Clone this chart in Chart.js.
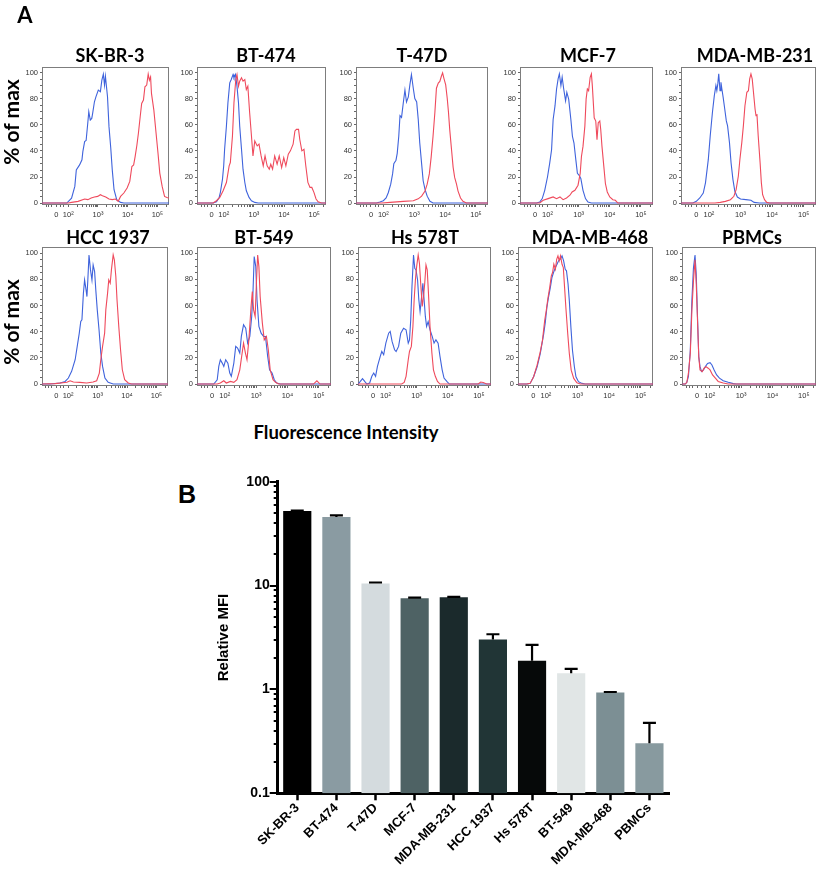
<!DOCTYPE html>
<html>
<head>
<meta charset="utf-8">
<script src="https://cdn.jsdelivr.net/npm/chart.js@4.4.1/dist/chart.umd.min.js"></script>
<style>
body{margin:0;background:#fff;}
#wrap{position:relative;width:817px;height:872px;overflow:hidden;}
canvas{position:absolute;}
.lbl{position:absolute;font-weight:bold;white-space:nowrap;color:#000;line-height:1;transform:translate(-50%,-50%);}
.hist{font-family:Lato,"Liberation Sans",sans-serif;font-size:18px;}
</style>
</head>
<body>
<div id="wrap"></div>
<script>
// ---- panel A: histograms, x = display position (decades), y = % of max ----
const skbr3Blue = [[1.12,0],[1.95,0],[2.11,3.8],[2.22,12.8],[2.27,25.5],[2.38,29.3],[2.46,33.2],[2.49,39.5],[2.55,47.2],[2.60,48],[2.66,62.5],[2.69,70.2],[2.74,63.8],[2.79,65],[2.82,68.9],[2.88,77.8],[2.93,81.6],[3.01,86.7],[3.08,85.5],[3.13,94.4],[3.18,99],[3.22,90.6],[3.25,97.4],[3.32,81.6],[3.37,58.7],[3.43,42.1],[3.48,25.5],[3.54,10.2],[3.63,2.6],[3.76,0.5],[3.87,0],[5.39,0]];
const skbr3Red = [[1.12,0],[2.0,0],[2.11,0.5],[2.33,1.3],[2.55,3.1],[2.66,2.6],[2.77,3.8],[2.88,4.6],[2.99,5.1],[3.08,6.4],[3.15,5.6],[3.26,4.6],[3.37,3.1],[3.48,2.6],[3.59,3.1],[3.68,1.3],[3.76,5.1],[3.87,7.7],[3.98,11.5],[4.07,16.6],[4.14,28.1],[4.20,29.3],[4.25,35.7],[4.31,44.6],[4.36,53.6],[4.42,66.3],[4.47,76.5],[4.53,79.1],[4.58,89.3],[4.64,90.6],[4.69,99],[4.73,94.4],[4.77,96.9],[4.80,84.2],[4.88,71.4],[4.95,54.8],[5.02,38.3],[5.08,23],[5.16,12.8],[5.24,5.1],[5.32,4.3],[5.39,3.8]];
const bt474Blue = [[1.12,0],[1.65,0],[1.76,1],[1.85,4.3],[1.89,8.2],[1.96,18.4],[2.0,28.6],[2.03,41.3],[2.09,59.2],[2.14,77],[2.20,92.3],[2.25,94.9],[2.31,98.7],[2.34,96.2],[2.39,98.7],[2.44,89.8],[2.49,77],[2.53,59.2],[2.59,41.3],[2.64,26],[2.70,15.8],[2.75,9.4],[2.84,4.3],[2.92,1.8],[3.03,0.5],[3.14,0],[5.39,0]];
const bt474Red = [[1.12,0],[1.65,0],[1.76,1.8],[1.87,4.3],[1.98,9.4],[2.09,15.8],[2.18,28.6],[2.22,31.1],[2.29,51.5],[2.34,77],[2.40,94.9],[2.44,98.7],[2.49,89.8],[2.53,93.6],[2.59,96.2],[2.64,93.6],[2.70,94.9],[2.75,87.2],[2.80,89.8],[2.86,69.4],[2.92,51.5],[2.97,36.2],[3.03,47.7],[3.11,43.9],[3.17,45.2],[3.24,36.2],[3.31,28.6],[3.37,36.2],[3.44,28.6],[3.51,26],[3.56,29.8],[3.62,26],[3.69,36.2],[3.77,29.8],[3.84,36.2],[3.92,27.3],[3.99,34.9],[4.06,28.6],[4.14,37.5],[4.21,40.1],[4.30,45.2],[4.36,55.4],[4.41,56.6],[4.48,56.6],[4.52,49],[4.59,40.1],[4.66,41.3],[4.72,28.6],[4.79,15.8],[4.86,12],[4.92,12],[4.99,8.2],[5.06,3.1],[5.13,1],[5.24,0],[5.39,0]];
const t47dBlue = [[1.12,0],[1.78,0],[1.89,0.8],[2.0,1.8],[2.09,3.9],[2.16,7.9],[2.24,14.5],[2.30,22.4],[2.34,30.3],[2.41,32.9],[2.45,38.2],[2.50,51.3],[2.54,67.1],[2.59,65.8],[2.65,77.6],[2.70,86.8],[2.75,77.6],[2.81,81.6],[2.86,90.8],[2.91,98.7],[2.97,88.2],[3.02,80.3],[3.08,77.6],[3.13,64.5],[3.18,46.1],[3.24,30.3],[3.29,17.1],[3.35,10.5],[3.42,5.3],[3.51,1.3],[3.61,0],[5.39,0]];
const t47dRed = [[1.12,0],[1.95,0],[2.22,0.5],[2.65,1.3],[2.97,1.8],[3.13,3.2],[3.24,5.3],[3.35,9.2],[3.42,14.5],[3.49,22.4],[3.55,35.5],[3.61,51.3],[3.67,69.7],[3.72,88.2],[3.78,92.1],[3.83,93.4],[3.88,97.4],[3.92,100],[3.96,96],[4.02,90.8],[4.07,80.3],[4.11,69.7],[4.15,56.6],[4.21,40.8],[4.26,27.6],[4.31,19.7],[4.37,14.5],[4.42,9.2],[4.50,3.9],[4.58,1.3],[4.69,0],[5.39,0]];
const mcf7Blue = [[1.12,0],[1.65,0],[1.75,0.8],[1.83,3.4],[1.91,9.8],[2.0,20.2],[2.07,30.6],[2.13,40.9],[2.18,64.2],[2.24,74.6],[2.29,87.6],[2.34,95.3],[2.38,99.2],[2.43,90.2],[2.47,96.6],[2.52,87.6],[2.58,78.5],[2.62,85],[2.68,79.8],[2.75,64.2],[2.80,51.3],[2.85,46.1],[2.91,33.2],[2.96,22.8],[3.01,21.5],[3.07,18.9],[3.14,9.8],[3.22,3.4],[3.30,0.8],[3.41,0],[5.39,0]];
const mcf7Red = [[1.12,0],[1.75,0],[1.86,2.1],[2.02,3.4],[2.18,4.7],[2.29,3.4],[2.40,4.7],[2.50,2.6],[2.61,3.9],[2.72,6],[2.79,8.5],[2.88,9.8],[2.98,13.7],[3.05,22.8],[3.09,35.8],[3.14,43.5],[3.20,59.1],[3.24,79.8],[3.28,87.6],[3.32,86.3],[3.37,96.6],[3.41,99.2],[3.44,90.2],[3.50,65.5],[3.55,63],[3.59,48.7],[3.63,61.7],[3.68,63],[3.71,56.5],[3.75,43.5],[3.81,28],[3.86,15],[3.92,8.5],[4.00,4.7],[4.10,2.6],[4.18,2.1],[4.26,0],[5.39,0]];
const mda231Blue = [[1.12,0],[1.49,0],[1.60,1.3],[1.71,3.9],[1.82,7.7],[1.89,15.5],[1.98,33.5],[2.04,51.5],[2.11,69.6],[2.17,82.5],[2.22,90.2],[2.25,86.3],[2.28,91.5],[2.31,99.2],[2.35,86.3],[2.38,92.8],[2.41,87.6],[2.45,81.2],[2.50,72.2],[2.55,63.1],[2.59,59.3],[2.65,46.4],[2.70,30.9],[2.76,18],[2.82,9],[2.90,4.6],[3.0,3.1],[3.17,2.6],[3.33,2.1],[3.43,0.5],[3.60,0],[5.39,0]];
const mda231Red = [[1.12,0],[2.19,0],[2.36,0.5],[2.52,1.3],[2.68,2.6],[2.79,5.2],[2.86,10.3],[2.93,20.6],[2.98,33.5],[3.04,46.4],[3.09,59.3],[3.14,74.7],[3.20,85.1],[3.25,86.3],[3.29,95.4],[3.33,99.2],[3.37,95.4],[3.41,85.1],[3.46,72.2],[3.49,67],[3.52,68.3],[3.56,51.5],[3.62,30.9],[3.66,15.5],[3.70,6.4],[3.76,2.6],[3.83,0.5],[3.92,0],[5.39,0]];
const hccBlue = [[1.12,0],[1.39,0],[1.73,0.8],[1.90,2],[2.01,4.6],[2.12,9.7],[2.24,18.6],[2.31,28.8],[2.38,38.9],[2.43,47.8],[2.47,49.1],[2.52,69.5],[2.56,79.6],[2.61,72],[2.64,66.9],[2.67,79.6],[2.71,98.7],[2.76,87.3],[2.81,79.6],[2.85,91.1],[2.90,86],[2.94,72],[2.99,56.7],[3.05,41.5],[3.11,23.7],[3.17,13.5],[3.25,4.6],[3.36,1.3],[3.53,0],[5.39,0]];
const hccRed = [[1.12,0],[1.56,0.3],[1.96,1.3],[2.07,2.5],[2.18,1.5],[2.40,1.3],[2.63,0.8],[2.85,1.5],[2.97,2.5],[3.06,8.4],[3.11,18.6],[3.17,28.8],[3.24,38.9],[3.28,56.7],[3.34,69.5],[3.38,79.6],[3.43,77.1],[3.47,87.3],[3.53,98.7],[3.57,94.9],[3.62,82.2],[3.66,64.4],[3.72,44],[3.78,26.2],[3.84,10.9],[3.92,3.3],[4.04,0.8],[4.15,0],[5.39,0]];
const bt549Blue = [[1.12,0],[1.65,0],[1.76,3.3],[1.81,13.5],[1.86,18.6],[1.92,16],[1.97,13.5],[2.03,18.6],[2.10,16],[2.16,8.4],[2.21,5.9],[2.29,16],[2.35,28.8],[2.41,27.5],[2.48,23.7],[2.53,36.4],[2.60,45.3],[2.67,42.7],[2.73,31.3],[2.80,36.4],[2.86,51.7],[2.90,69.5],[2.94,97.5],[2.99,89.8],[3.03,64.4],[3.09,44],[3.16,38.9],[3.24,36.4],[3.30,36.4],[3.37,21.1],[3.43,10.9],[3.51,8.4],[3.58,3.3],[3.66,0.8],[3.77,0],[5.39,0]];
const bt549Red = [[1.12,0],[1.76,0],[1.86,0.8],[1.97,2.5],[2.05,0.8],[2.18,2],[2.29,1.3],[2.39,3.3],[2.48,10.9],[2.54,21.1],[2.60,31.3],[2.66,23.7],[2.71,18.6],[2.77,33.8],[2.84,59.3],[2.88,70.7],[2.92,56.7],[2.97,51.7],[3.01,77.1],[3.05,98.7],[3.09,89.8],[3.13,66.9],[3.20,46.6],[3.26,33.8],[3.33,36.4],[3.39,26.2],[3.45,10.9],[3.54,3.3],[3.62,1.3],[3.72,0],[4.83,0],[4.94,2.5],[5.04,0],[5.39,0]];
const hsBlue = [[1.12,0],[1.13,0],[1.19,2],[1.26,4.1],[1.33,2],[1.40,0],[1.49,0.8],[1.56,5.9],[1.62,8.4],[1.68,5.9],[1.74,13.5],[1.83,21.1],[1.88,24.9],[1.94,22.4],[2.01,31.3],[2.10,38.9],[2.15,40.2],[2.21,32.6],[2.29,26.2],[2.34,24.9],[2.42,28.8],[2.49,38.9],[2.58,42.7],[2.66,41.5],[2.73,31.3],[2.77,33.8],[2.81,49.1],[2.85,74.6],[2.90,98.7],[2.94,88.5],[2.98,87.3],[3.03,79.6],[3.07,64.4],[3.11,55.5],[3.15,64.4],[3.20,77.1],[3.24,64.4],[3.28,51.7],[3.32,44],[3.37,47.8],[3.43,41.5],[3.50,36.4],[3.56,31.3],[3.62,33.8],[3.69,31.3],[3.75,21.1],[3.82,10.9],[3.88,4.6],[3.97,2],[4.05,0],[5.39,0]];
const hsRed = [[1.12,0],[2.52,0],[2.60,1.3],[2.66,5.9],[2.73,18.6],[2.77,24.9],[2.83,28.8],[2.88,44],[2.92,64.4],[2.96,79.6],[3.00,89.8],[3.05,98.7],[3.09,92.4],[3.13,77.1],[3.18,59.3],[3.22,66.9],[3.26,77.1],[3.30,91.1],[3.34,87.3],[3.38,69.5],[3.43,44],[3.49,23.7],[3.54,10.9],[3.60,5.9],[3.67,2],[3.75,0],[4.98,0],[5.06,1.5],[5.14,1.2],[5.25,0],[5.39,0]];
const mda468Blue = [[1.12,0],[1.40,0],[1.50,0.5],[1.61,5.6],[1.72,13.2],[1.82,23.3],[1.93,38.5],[1.98,47.3],[2.03,58.7],[2.08,66.3],[2.14,73.9],[2.19,81.5],[2.24,85.3],[2.30,89.1],[2.35,91.6],[2.40,94.2],[2.45,95.4],[2.51,98],[2.56,94.2],[2.61,87.8],[2.65,86.6],[2.70,76.5],[2.74,63.8],[2.79,43.5],[2.84,25.8],[2.90,13.2],[2.95,5.6],[3.03,1.8],[3.14,0.5],[3.24,0],[5.39,0]];
const mda468Red = [[1.12,0],[1.40,0],[1.50,0.5],[1.61,5.6],[1.72,14.4],[1.82,24.6],[1.89,33.4],[1.96,48.6],[2.01,56.2],[2.06,65.1],[2.12,73.9],[2.17,82.8],[2.21,85.3],[2.25,91.6],[2.30,87.8],[2.34,95.4],[2.38,98],[2.42,94.2],[2.46,98],[2.51,91.6],[2.55,89.1],[2.59,73.9],[2.63,58.7],[2.69,38.5],[2.74,23.3],[2.80,10.6],[2.88,4.3],[2.98,1],[3.09,0],[5.39,0]];
const pbmcBlue = [[1.12,0],[1.22,0],[1.27,1.3],[1.32,5.8],[1.38,25.9],[1.43,63.6],[1.48,88.7],[1.53,98.7],[1.57,83.7],[1.61,51],[1.65,20.9],[1.69,13.3],[1.74,9.5],[1.80,10.8],[1.86,13.3],[1.93,15.8],[2.01,16.3],[2.07,14.6],[2.14,10.8],[2.22,7],[2.31,4.5],[2.43,2.5],[2.59,1.3],[2.75,0.3],[2.85,0],[5.39,0]];
const pbmcRed = [[1.12,0],[1.22,0],[1.27,1.3],[1.32,8.3],[1.38,23.4],[1.43,56],[1.48,78.6],[1.53,95],[1.57,76.1],[1.61,48.5],[1.65,20.9],[1.69,10.8],[1.76,9.5],[1.82,12.1],[1.88,13.3],[1.95,12.1],[2.01,10.8],[2.09,7],[2.18,4.5],[2.27,2],[2.43,0.8],[2.59,0],[5.39,0]];

const histXLabels = ['0', '10\u00b2', '10\u00b3', '10\u2074', '10\u2075'];
const histXLabelPos = [1.6, 2, 3, 4, 5];
const histYLabels = [0, 20, 40, 60, 80, 100];

// ---- panel B: relative MFI bars ----
const cellLines = ['SK-BR-3', 'BT-474', 'T-47D', 'MCF-7', 'MDA-MB-231', 'HCC 1937', 'Hs 578T', 'BT-549', 'MDA-MB-468', 'PBMCs'];
const mfiMean = [52.2, 45.7, 10.45, 7.55, 7.72, 3.03, 1.89, 1.43, 0.935, 0.303];
const mfiSd = [0.4, 1.8, 0.25, 0.12, 0.06, 0.37, 0.80, 0.15, 0.01, 0.174];
const barColors = ['#000000', '#8a9ba2', '#d4dbde', '#4e6264', '#1b2a2c', '#213536', '#060909', '#e1e6e6', '#7c8f94', '#889a9f'];
const mfiTickLabels = [0.1, 1, 10, 100];

const wrap = document.getElementById('wrap');
const BLUE = '#3f63dc', RED = '#ef4a5c';

function addLabel(text, cx, cy, cls, style){
  const d = document.createElement('div');
  d.className = 'lbl ' + (cls || '');
  d.textContent = text;
  d.style.left = cx + 'px';
  d.style.top = cy + 'px';
  if(style) Object.assign(d.style, style);
  wrap.appendChild(d);
  return d;
}

const framePlugin = {
  id: 'frame',
  beforeDatasetsDraw(c){
    const a = c.chartArea, ctx = c.ctx;
    ctx.save();
    ctx.strokeStyle = '#7d7d7d';
    ctx.lineWidth = 1;
    ctx.strokeRect(Math.round(a.left)+0.5, Math.round(a.top)+0.5, Math.round(a.width)-1, Math.round(a.height)-1);
    ctx.restore();
  }
};

// minor tick positions along the display axis
const histXTicks = histXLabelPos.slice();
[1.25, 1.35, 1.45, 1.75, 1.85].forEach(v => histXTicks.push(v));
[2, 3, 4].forEach(d => { for(let k = 2; k <= 9; k++) histXTicks.push(d + Math.log10(k)); });
histXTicks.push(5 + Math.log10(2));

const rows = [{top: 67, h: 138}, {top: 247, h: 139}];
const panels = [
  {row:0, left:42, w:127, title:'SK-BR-3', tx:110, blue:skbr3Blue, red:skbr3Red},
  {row:0, left:197, w:129, title:'BT-474', tx:266, blue:bt474Blue, red:bt474Red},
  {row:0, left:356, w:132, title:'T-47D', tx:422, blue:t47dBlue, red:t47dRed},
  {row:0, left:520, w:133, title:'MCF-7', tx:588, blue:mcf7Blue, red:mcf7Red},
  {row:0, left:681, w:135, title:'MDA-MB-231', tx:755, blue:mda231Blue, red:mda231Red},
  {row:1, left:42, w:126, title:'HCC 1937', tx:108, blue:hccBlue, red:hccRed},
  {row:1, left:197, w:134, title:'BT-549', tx:264, blue:bt549Blue, red:bt549Red},
  {row:1, left:358, w:133, title:'Hs 578T', tx:425, blue:hsBlue, red:hsRed},
  {row:1, left:518, w:135, title:'MDA-MB-468', tx:590, blue:mda468Blue, red:mda468Red},
  {row:1, left:682, w:134, title:'PBMCs', tx:752, blue:pbmcBlue, red:pbmcRed}
];
const titleY = [54.5, 236.5];

function toXY(arr){ return arr.map(p => ({x: p[0], y: p[1]})); }

function histChart(p){
  const r = rows[p.row];
  const padL = 24, padT = 6, padR = 2, padB = 16;
  const cv = document.createElement('canvas');
  cv.width = p.w + padL + padR;
  cv.height = r.h + padT + padB;
  cv.style.left = (p.left - padL) + 'px';
  cv.style.top = (r.top - padT) + 'px';
  wrap.appendChild(cv);
  const tickFont = {family: '"Liberation Sans", Arial, sans-serif', size: 7.5};
  new Chart(cv, {
    type: 'line',
    data: {datasets: [
      {data: toXY(p.red), borderColor: RED, borderWidth: 1.1, pointRadius: 0, tension: 0, fill: false},
      {data: toXY(p.blue), borderColor: BLUE, borderWidth: 1.1, pointRadius: 0, tension: 0, fill: false}
    ]},
    options: {
      responsive: false, animation: false, events: [],
      layout: {padding: {top: padT, right: padR, left: 0, bottom: 0}},
      plugins: {legend: {display: false}, tooltip: {enabled: false}},
      scales: {
        x: {
          type: 'linear', min: 1.115, max: 5.39,
          afterFit(s){ s.height = padB; s.paddingLeft = 0; s.paddingRight = 0; },
          afterBuildTicks(s){ s.ticks = histXTicks.map(v => ({value: v})); },
          ticks: {autoSkip: false, maxRotation: 0, minRotation: 0, padding: 3, font: tickFont, color: '#333',
            callback(v){ const i = histXLabelPos.findIndex(q => Math.abs(q - v) < 1e-6); return i >= 0 ? histXLabels[i] : ''; }},
          grid: {drawOnChartArea: false, drawTicks: true, tickLength: 2, color: '#666'},
          border: {display: false}
        },
        y: {
          min: -1.5, max: p.row === 0 ? 104.5 : 104.8,
          afterFit(s){ s.width = padL; s.paddingTop = 0; s.paddingBottom = 0; },
          afterBuildTicks(s){ const t = []; for(let v = 0; v <= 100; v += 5) t.push({value: v}); s.ticks = t; },
          ticks: {autoSkip: false, padding: 2, font: tickFont, color: '#333',
            callback(v){ return histYLabels.includes(v) ? String(v) : ''; }},
          grid: {drawOnChartArea: false, drawTicks: true, tickLength: 2, color: '#666'},
          border: {display: false}
        }
      }
    },
    plugins: [framePlugin]
  });
  addLabel(p.title, p.tx, titleY[p.row], 'hist');
}

panels.forEach(histChart);

addLabel('A', 25, 15, 'hist', {fontSize: '22px'});
addLabel('% of max', 10, 122, 'hist', {fontSize: '21px', transform: 'translate(-50%,-50%) rotate(-90deg)'});
addLabel('% of max', 10, 322, 'hist', {fontSize: '21px', transform: 'translate(-50%,-50%) rotate(-90deg)'});
addLabel('Fluorescence Intensity', 346, 432, 'hist', {fontSize: '18.5px'});
addLabel('B', 187, 494, '', {fontFamily: '"Liberation Sans", Arial, sans-serif', fontSize: '25px'});

// ---- bar chart ----
const errorBars = {
  id: 'errorBars',
  afterDatasetsDraw(c){
    const meta = c.getDatasetMeta(0), y = c.scales.y, ctx = c.ctx;
    ctx.save();
    ctx.strokeStyle = '#000';
    ctx.lineWidth = 2.2;
    meta.data.forEach((bar, i) => {
      const yTop = y.getPixelForValue(mfiMean[i] + mfiSd[i]);
      const yMid = y.getPixelForValue(mfiMean[i]);
      ctx.beginPath();
      ctx.moveTo(bar.x, yMid);
      ctx.lineTo(bar.x, yTop);
      ctx.moveTo(bar.x - 6.5, yTop);
      ctx.lineTo(bar.x + 6.5, yTop);
      ctx.stroke();
    });
    ctx.restore();
  }
};

const logTicks = {
  id: 'logTicks',
  afterDraw(c){
    const y = c.scales.y, x0 = c.chartArea.left, ctx = c.ctx;
    ctx.save();
    ctx.strokeStyle = '#000';
    ctx.lineWidth = 2;
    y.ticks.forEach(t => {
      const major = mfiTickLabels.some(m => Math.abs(m - t.value) < 1e-9);
      const py = Math.round(y.getPixelForValue(t.value));
      ctx.beginPath();
      ctx.moveTo(x0 - (major ? 8 : 4), py);
      ctx.lineTo(x0, py);
      ctx.stroke();
    });
    ctx.restore();
  }
};

const bcv = document.createElement('canvas');
bcv.width = 500; bcv.height = 402;
bcv.style.left = '180px'; bcv.style.top = '470px';
wrap.appendChild(bcv);

const boldFont = size => ({family: '"Liberation Sans", Arial, sans-serif', weight: 'bold', size: size});

new Chart(bcv, {
  type: 'bar',
  data: {
    labels: cellLines,
    datasets: [{data: mfiMean, backgroundColor: barColors, borderWidth: 0, barPercentage: 0.72, categoryPercentage: 1}]
  },
  options: {
    responsive: false, animation: false, events: [],
    layout: {padding: {top: 11.7, right: 11, left: 0, bottom: 0}},
    plugins: {legend: {display: false}, tooltip: {enabled: false}},
    scales: {
      x: {
        afterFit(s){ s.height = 78.7; s.paddingLeft = 0; s.paddingRight = 0; },
        ticks: {autoSkip: false, minRotation: 45, maxRotation: 45, padding: 0, color: '#000', font: boldFont(13)},
        grid: {offset: false, drawOnChartArea: false, tickLength: 7, tickWidth: 2.5, tickColor: '#000'},
        border: {color: '#000', width: 3}
      },
      y: {
        type: 'logarithmic', min: 0.1, max: 100,
        afterFit(s){ s.width = 97.7; s.paddingTop = 0; s.paddingBottom = 0; },
        afterBuildTicks(s){
          const t = [];
          [0.1, 1, 10].forEach(d => { for(let k = 1; k <= 9; k++) t.push({value: Math.round(k * d * 10) / 10}); });
          t.push({value: 100});
          s.ticks = t;
        },
        ticks: {autoSkip: false, padding: 2, color: '#000', font: boldFont(14),
          callback(v){ const m = mfiTickLabels.find(q => Math.abs(q - v) < 1e-9); return m === undefined ? '' : String(m); }},
        grid: {drawOnChartArea: false, drawTicks: true, tickLength: 6, tickColor: 'rgba(0,0,0,0)'},
        border: {color: '#000', width: 3},
        title: {display: true, text: 'Relative MFI', color: '#000', font: boldFont(15), padding: {top: 35, bottom: 0}}
      }
    }
  },
  plugins: [errorBars, logTicks]
});
</script>
</body>
</html>
